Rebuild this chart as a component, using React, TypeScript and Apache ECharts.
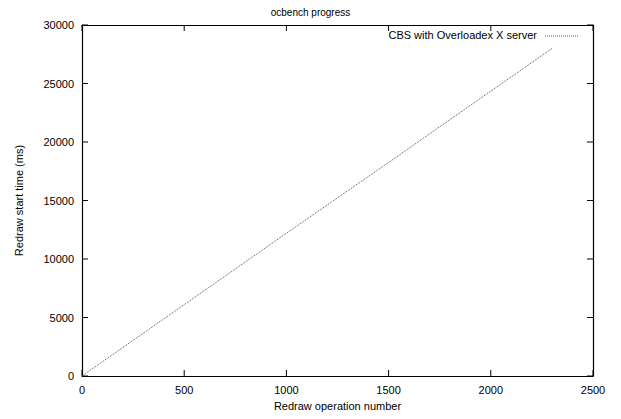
import React, { useEffect, useRef } from "react";
import * as echarts from "echarts";

const title = "ocbench progress";
const seriesName = "CBS with Overloadex X server";
const xValues = [0, 500, 1000, 1500, 2000, 2300];
const yValues = [0, 6100, 12200, 18250, 24350, 28000];
const xTicks = { min: 0, max: 2500, interval: 500 };
const yTicks = { min: 0, max: 30000, interval: 5000 };
const xTickValues = [0, 500, 1000, 1500, 2000, 2500];
const yTickValues = [0, 5000, 10000, 15000, 20000, 25000, 30000];

const font = "Liberation Sans, Arial, Helvetica, sans-serif";

export default function App() {
  const ref = useRef<HTMLDivElement>(null);
  useEffect(() => {
    if (!ref.current) return;
    const chart = echarts.init(ref.current, null, { renderer: "svg" });
    const axisLine = { show: true, onZero: false, lineStyle: { color: "#000", width: 1.2 } };
    const tick = { show: false };
    const lineColor = "#555";
    chart.setOption({
      animation: false,
      backgroundColor: "#fff",
      textStyle: { fontFamily: font },
      title: {
        text: title,
        left: "center",
        top: 2,
        textStyle: { fontSize: 10, fontWeight: "normal", color: "#000", fontFamily: font },
      },
      grid: { left: 82, right: 28, top: 25, bottom: 43, containLabel: false },
      xAxis: [
        {
          type: "value",
          ...xTicks,
          position: "bottom",
          name: "Redraw operation number",
          nameLocation: "middle",
          nameGap: 24,
          nameTextStyle: { fontSize: 11, color: "#000", fontFamily: font },
          axisLine,
          axisTick: tick,
          axisLabel: { color: "#000", fontSize: 11, margin: 8, fontFamily: font, formatter: (v: number) => String(v) },
          splitLine: { show: false },
        },
        {
          type: "value",
          ...xTicks,
          position: "top",
          axisLine,
          axisTick: tick,
          axisLabel: { show: false },
          splitLine: { show: false },
        },
      ],
      yAxis: [
        {
          type: "value",
          ...yTicks,
          position: "left",
          name: "Redraw start time (ms)",
          nameLocation: "middle",
          nameGap: 58,
          nameTextStyle: { fontSize: 11, color: "#000", fontFamily: font },
          axisLine,
          axisTick: tick,
          axisLabel: { color: "#000", fontSize: 11, margin: 8, fontFamily: font, formatter: (v: number) => String(v) },
          splitLine: { show: false },
        },
        {
          type: "value",
          ...yTicks,
          position: "right",
          axisLine,
          axisTick: tick,
          axisLabel: { show: false },
          splitLine: { show: false },
        },
      ],
      series: [
        {
          name: seriesName,
          type: "line",
          xAxisIndex: 0,
          yAxisIndex: 0,
          data: xValues.map((x, i) => [x, yValues[i]]),
          showSymbol: false,
          symbol: "none",
          lineStyle: { color: lineColor, width: 1, type: [1, 1] },
          itemStyle: { color: lineColor },
        },
        {
          name: "mirror",
          type: "line",
          xAxisIndex: 1,
          yAxisIndex: 1,
          data: [],
          symbol: "none",
        },
      ],
    });

    const [x0, y0] = chart.convertToPixel({ xAxisIndex: 0, yAxisIndex: 0 }, [xTicks.min, yTicks.min]) as number[];
    const [x1, y1] = chart.convertToPixel({ xAxisIndex: 0, yAxisIndex: 0 }, [xTicks.max, yTicks.max]) as number[];
    const L = 6;
    const tickStyle = { stroke: "#000", lineWidth: 1 };
    const tickEls: any[] = [];
    xTickValues.forEach((v) => {
      const px = chart.convertToPixel({ xAxisIndex: 0 }, v) as number;
      tickEls.push({ type: "line", shape: { x1: px, y1: y0, x2: px, y2: y0 - L }, style: tickStyle });
      tickEls.push({ type: "line", shape: { x1: px, y1: y1, x2: px, y2: y1 + L }, style: tickStyle });
    });
    yTickValues.forEach((v) => {
      const py = chart.convertToPixel({ yAxisIndex: 0 }, v) as number;
      tickEls.push({ type: "line", shape: { x1: x0, y1: py, x2: x0 + L, y2: py }, style: tickStyle });
      tickEls.push({ type: "line", shape: { x1: x1, y1: py, x2: x1 - L, y2: py }, style: tickStyle });
    });
    chart.setOption({
      graphic: [
        ...tickEls,
        {
          type: "text",
          right: 84,
          top: 29,
          style: { text: seriesName, fontSize: 11, fill: "#000", fontFamily: font },
        },
        {
          type: "line",
          shape: { x1: 545, y1: 36, x2: 578, y2: 36 },
          style: { stroke: lineColor, lineWidth: 1, lineDash: [1, 1] },
        },
      ],
    });
    return () => chart.dispose();
  }, []);
  return <div ref={ref} style={{ width: 621, height: 419, position: "absolute", left: 0, top: 0 }} />;
}
